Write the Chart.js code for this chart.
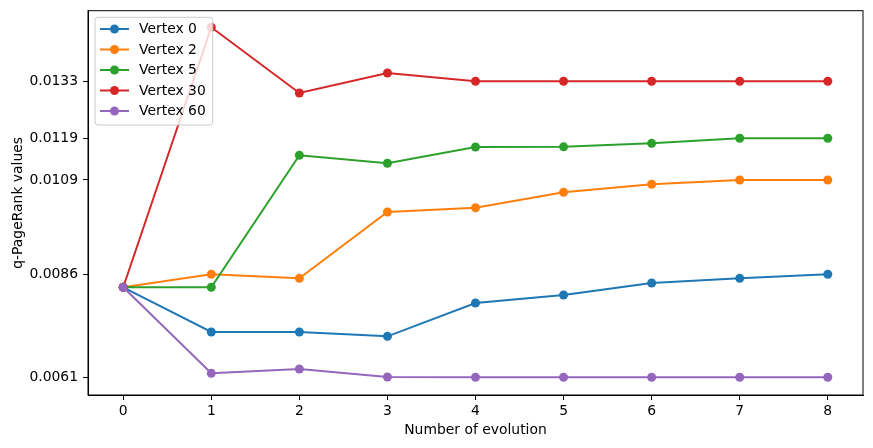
<!DOCTYPE html>
<html>
<head>
<meta charset="utf-8">
<script src="https://cdn.jsdelivr.net/npm/chart.js@4"></script>
<style>
  html, body { margin: 0; padding: 0; background: #fff; }
</style>
</head>
<body>
<canvas id="chart" width="873" height="448"></canvas>
<script>
// values
const steps = [0, 1, 2, 3, 4, 5, 6, 7, 8];
const vertex0 = [0.008286, 0.007205, 0.007205, 0.0071, 0.007906, 0.0081, 0.00839, 0.008503, 0.0086];
const vertex2 = [0.008286, 0.0086, 0.008503, 0.010105, 0.01021, 0.010583, 0.010776, 0.01088, 0.01088];
const vertex5 = [0.008286, 0.008286, 0.011477, 0.011284, 0.011678, 0.011682, 0.011767, 0.011888, 0.011888];
const vertex30 = [0.008286, 0.014572, 0.012983, 0.013467, 0.013266, 0.013266, 0.013266, 0.013266, 0.013266];
const vertex60 = [0.008286, 0.006206, 0.00631, 0.006117, 0.00611, 0.00611, 0.00611, 0.00611, 0.00611];
// y ticks sit on the last value of each vertex, shown with 4 decimals
const yTickValues = [0.00611, 0.0086, 0.01088, 0.011888, 0.013266];

const seriesNames = ['Vertex 0', 'Vertex 2', 'Vertex 5', 'Vertex 30', 'Vertex 60'];
const seriesValues = [vertex0, vertex2, vertex5, vertex30, vertex60];
const colors = ['#1f77b4', '#ff7f0e', '#2ca02c', '#d62728', '#9467bd'];

Chart.defaults.font.family = 'DejaVu Sans';
Chart.defaults.font.size = 13.9;
Chart.defaults.color = '#000';

function make_dataset(i) {
  return {
    label: seriesNames[i],
    data: steps.map((s, k) => ({x: s, y: seriesValues[i][k]})),
    borderColor: colors[i],
    backgroundColor: colors[i],
    borderWidth: 2,
    pointRadius: 4.5,
    pointBorderWidth: 0,
    pointBackgroundColor: colors[i],
    tension: 0,
    order: seriesNames.length - i, // later series on top, like matplotlib
  };
}

// black box around the plot
const framePlugin = {
  id: 'frame',
  afterDatasetsDraw(chart) {
    const {ctx, chartArea: a} = chart;
    ctx.save();
    ctx.strokeStyle = '#000';
    ctx.lineWidth = 1;
    ctx.strokeRect(a.left, a.top, a.right - a.left, a.bottom - a.top);
    ctx.restore();
  }
};

// legend inside the upper left corner
const legendPlugin = {
  id: 'innerLegend',
  afterDraw(chart) {
    const {ctx, chartArea: a} = chart;
    const x0 = a.left + 7, y0 = a.top + 6.6;
    const w = 117.7, h = 107.7, r = 3;
    ctx.save();
    ctx.beginPath();
    ctx.roundRect(x0, y0, w, h, r);
    ctx.fillStyle = 'rgba(255,255,255,0.8)';
    ctx.fill();
    ctx.strokeStyle = '#cccccc';
    ctx.lineWidth = 1;
    ctx.stroke();
    chart.data.datasets.forEach((ds, i) => {
      const cy = y0 + 11.7 + i * 20.5;
      ctx.strokeStyle = ds.borderColor;
      ctx.lineWidth = 2;
      ctx.beginPath();
      ctx.moveTo(x0 + 5, cy);
      ctx.lineTo(x0 + 34, cy);
      ctx.stroke();
      ctx.fillStyle = ds.borderColor;
      ctx.beginPath();
      ctx.arc(x0 + 19.5, cy, 4.5, 0, Math.PI * 2);
      ctx.fill();
      ctx.fillStyle = '#000';
      ctx.font = '13.9px "DejaVu Sans"';
      ctx.textBaseline = 'middle';
      ctx.textAlign = 'left';
      ctx.fillText(ds.label, x0 + 44, cy + 0.5);
    });
    ctx.restore();
  }
};

new Chart('chart', {
  type: 'line',
  data: {
    datasets: seriesNames.map((n, i) => make_dataset(i)),
  },
  options: {
    responsive: false,
    animation: false,
    events: [],
    layout: {padding: {top: 10.7, right: 10, left: 0, bottom: 0}},
    plugins: {
      legend: {display: false},
      tooltip: {enabled: false},
    },
    scales: {
      x: {
        type: 'linear',
        min: -0.4,
        max: 8.4,
        afterBuildTicks: (s) => { s.ticks = steps.map(v => ({value: v})); },
        afterFit: (s) => { s.height = 53; s.paddingLeft = 0; s.paddingRight = 0; },
        ticks: {padding: 3, callback: (v) => String(v)},
        grid: {drawOnChartArea: false, drawTicks: true, tickLength: 5, tickColor: '#000'},
        border: {display: true, color: '#000'},
        title: {display: true, text: 'Number of evolution', padding: {top: 0, bottom: 9}},
      },
      y: {
        min: 0.005682,
        max: 0.014973,
        afterBuildTicks: (s) => { s.ticks = yTickValues.map(v => ({value: v})); },
        afterFit: (s) => { s.width = 88; s.paddingTop = 0; s.paddingBottom = 0; },
        ticks: {padding: 5, callback: (v) => v.toFixed(4)},
        grid: {drawOnChartArea: false, drawTicks: true, tickLength: 5, tickColor: '#000'},
        border: {display: true, color: '#000'},
        title: {display: true, text: 'q-PageRank values', padding: {top: 10, bottom: 0}},
      },
    },
  },
  plugins: [framePlugin, legendPlugin],
});
</script>
</body>
</html>
